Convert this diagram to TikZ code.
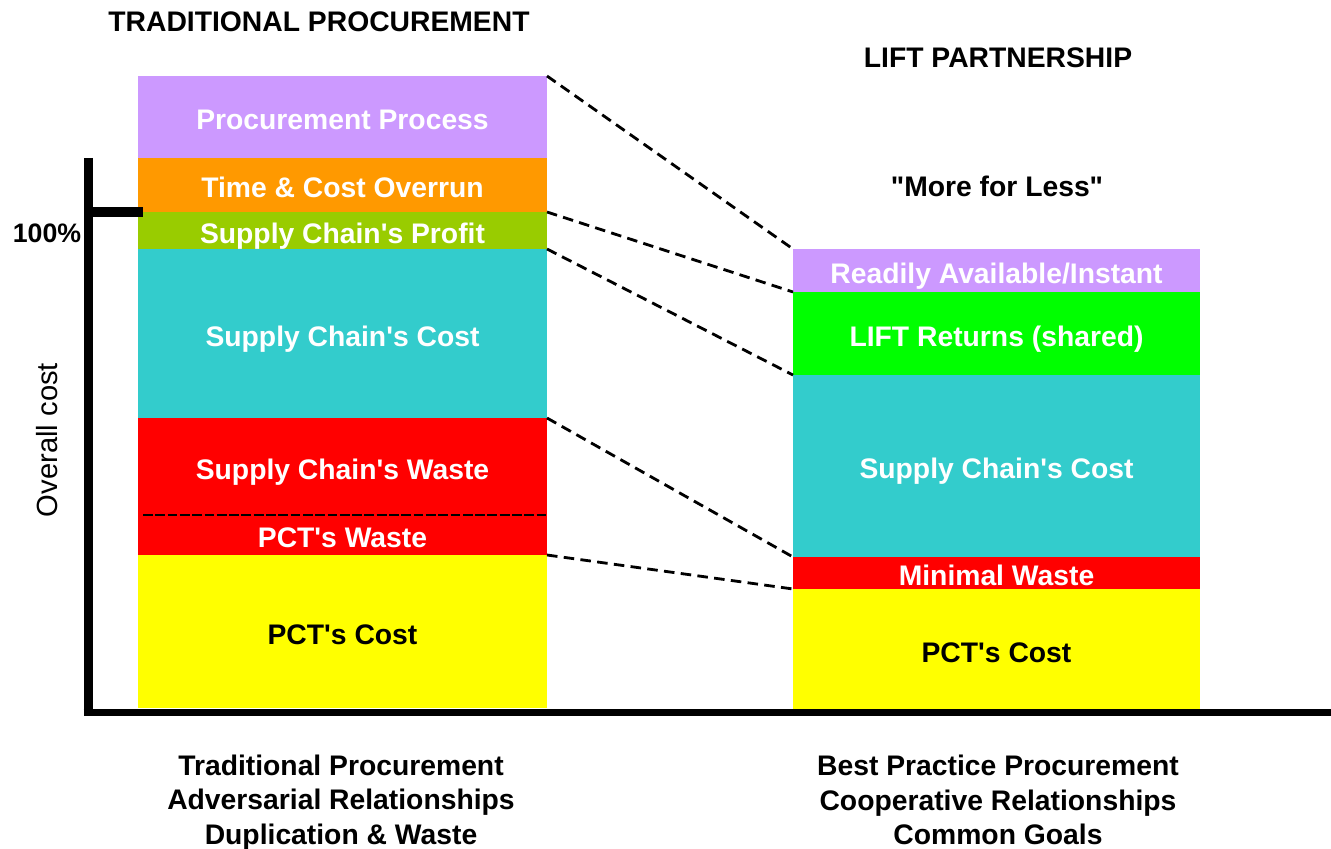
\documentclass[tikz,border=0pt]{standalone}
\usepackage{fontspec}
\setmainfont{Liberation Sans}[Ligatures=TeXOff]
\usetikzlibrary{positioning}
\definecolor{lilac}{RGB}{204,153,255}
\definecolor{overrun}{RGB}{255,153,0}
\definecolor{olive}{RGB}{153,204,0}
\definecolor{teal}{RGB}{51,204,204}
\definecolor{lime}{RGB}{0,255,0}
\definecolor{wastered}{RGB}{255,0,0}
\definecolor{costyellow}{RGB}{255,255,0}

\tikzset{
  seg/.style={inner sep=0pt, outer sep=0pt, text=white, text height=0.716em, text depth=0pt, font=\fontsize{8.05}{9.7}\selectfont\bfseries},
  segL/.style={seg, minimum width=4.09cm},
  segR/.style={seg, minimum width=4.07cm},
  caption/.style={font=\fontsize{8.05}{9.82}\selectfont\bfseries, align=center, inner sep=0pt},
  link/.style={dash pattern=on 3pt off 1.8pt, line width=0.8pt}
}

\begin{document}
\begin{tikzpicture}

\useasboundingbox (0, 0) rectangle (13.31, 8.48);

% traditional procurement
\node[segL, anchor=north west, fill=lilac, minimum height=0.82cm] (proc) at (1.38, 7.72) {Procurement Process};
\node[segL, below=0pt of proc, fill=overrun, minimum height=0.54cm] (overrun) {Time \& Cost Overrun};
\node[segL, below=0pt of overrun, fill=olive, minimum height=0.37cm] (profit) {Supply Chain's Profit};
\node[segL, below=0pt of profit, fill=teal, minimum height=1.69cm] (costL) {Supply Chain's Cost};
\node[segL, below=0pt of costL, fill=wastered, minimum height=0.97cm] (waste) {Supply Chain's Waste};
\node[segL, below=0pt of waste, fill=wastered, minimum height=0.40cm] (pctwaste) {PCT's Waste};
\node[segL, below=0pt of pctwaste, fill=costyellow, text=black, minimum height=1.53cm] (pctL) {PCT's Cost};

\draw[dash pattern=on 2.8pt off 0.7pt, line width=0.5pt] ([xshift=0.05cm]waste.south west) -- (waste.south east);

% lift partnership
\node[segR, anchor=north west, fill=lilac, minimum height=0.43cm] (ready) at (7.93, 5.99) {Readily Available/Instant};
\node[segR, below=0pt of ready, fill=lime, minimum height=0.83cm] (lift) {LIFT Returns (shared)};
\node[segR, below=0pt of lift, fill=teal, minimum height=1.82cm] (costR) {Supply Chain's Cost};
\node[segR, below=0pt of costR, fill=wastered, minimum height=0.32cm] (minimal) {Minimal Waste};
\node[segR, below=0pt of minimal, fill=costyellow, text=black, minimum height=1.21cm] (pctR) {PCT's Cost};

\draw[link] (proc.north east) -- (ready.north west);
\draw[link] (profit.north east) -- (lift.north west);
\draw[link] (costL.north east) -- (costR.north west);
\draw[link] (waste.north east) -- (minimal.north west);
\draw[link] (pctL.north east) -- (pctR.north west);

% axes
\coordinate (top) at (0.88, 6.90);
\coordinate (origin) at (0.88, 1.355);
\coordinate (right) at (13.31, 1.355);
\coordinate (full) at (0.88, 6.36);
\coordinate (tick) at (1.43, 6.36);
\draw[line width=0.09cm] (top) -- ([yshift=-0.035cm]origin);
\draw[line width=0.075cm] ([xshift=-0.045cm]origin) -- (right);
\draw[line width=0.095cm] (full) -- (tick);

\node[font=\fontsize{7.6}{9}\selectfont\bfseries, inner sep=0pt] (pct) at (0.47, 6.15) {100\%};
\node[font=\fontsize{8.3}{10}\selectfont, rotate=90, inner sep=0pt] (ylabel) at (0.47, 4.08) {Overall cost};

% headings and captions
\node[caption] (titleL) at (3.19, 8.26) {TRADITIONAL PROCUREMENT};
\node[caption] (titleR) at (9.98, 7.90) {LIFT PARTNERSHIP};
\node[caption] (motto) at (9.97, 6.62) {"More for Less"};
\node[caption] (captL) at (3.41, 0.455) {Traditional Procurement\\Adversarial Relationships\\Duplication \& Waste};
\node[caption] (captR) at (9.98, 0.48) {Best Practice Procurement\\Cooperative Relationships\\Common Goals};

\end{tikzpicture}
\end{document}
